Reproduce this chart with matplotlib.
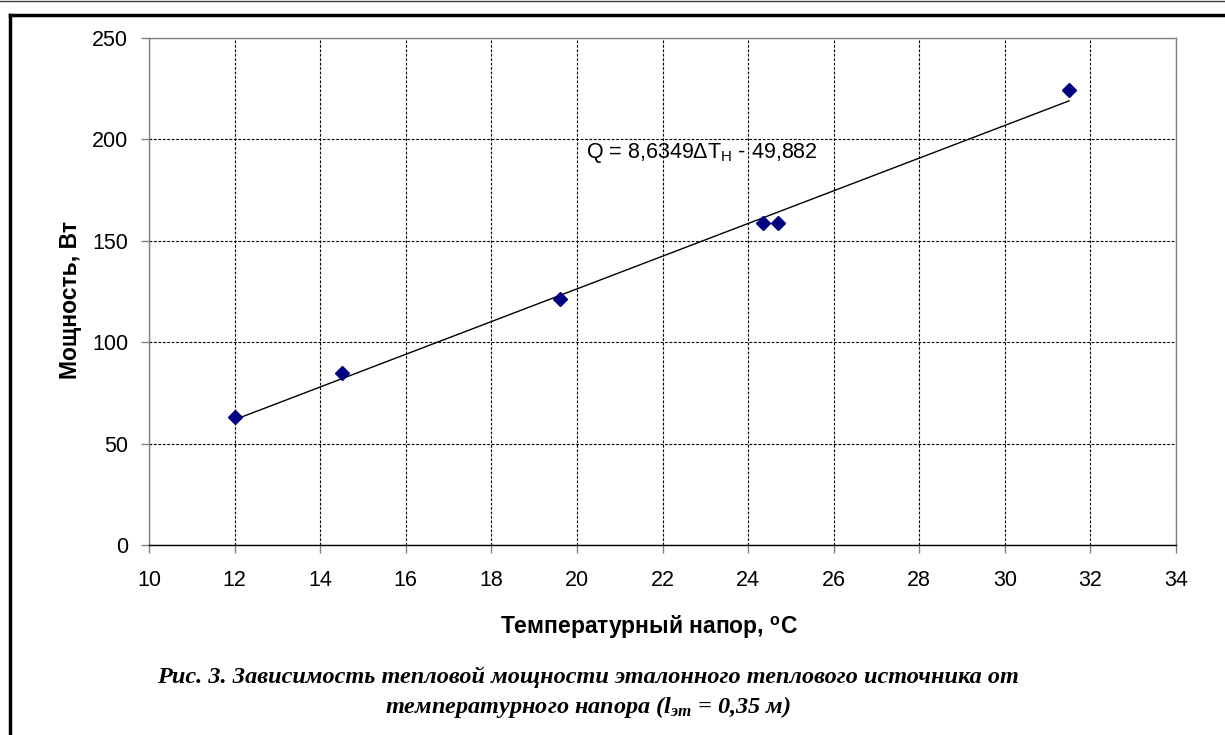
import numpy as np
import matplotlib
matplotlib.use("Agg")
import matplotlib.pyplot as plt
from matplotlib.lines import Line2D

plt.rcParams['font.family'] = ['Liberation Sans', 'DejaVu Sans']
plt.rcParams['mathtext.fontset'] = 'custom'
plt.rcParams['mathtext.rm'] = 'Liberation Serif:bold:italic'
plt.rcParams['mathtext.sf'] = 'Liberation Sans'
plt.rcParams['mathtext.it'] = 'Liberation Serif:bold:italic'
plt.rcParams['mathtext.bf'] = 'Liberation Sans:bold'

# Data
delta_t = [12.0, 14.5, 19.6, 24.35, 24.7, 31.5]
power = [63.0, 85.0, 121.3, 158.8, 158.8, 224.4]
x_ticks = [10, 12, 14, 16, 18, 20, 22, 24, 26, 28, 30, 32, 34]
y_ticks = [0, 50, 100, 150, 200, 250]
equation_label = "Q = 8,6349ΔT$_{\\mathsf{Н}}$ - 49,882"
x_label = "Температурный напор, $^{\\mathbf{o}}$C"
y_label = "Мощность, Вт"
caption = ("Рис. 3. Зависимость тепловой мощности эталонного теплового источника от\n"
           "температурного напора ($\\mathrm{l}_{\\mathrm{эт}}$ = 0,35 м)")

W, H = 1225, 735
fig = plt.figure(figsize=(W / 100, H / 100), dpi=100)
ax = fig.add_axes([149 / W, 1 - 545 / H, (1176 - 149) / W, (545 - 38) / H])

# Trendline from linear fit of data
coef = np.polyfit(delta_t, power, 1)
xs = np.array([min(delta_t), max(delta_t)])
ax.plot(xs, np.polyval(coef, xs), color='black', lw=1.0, zorder=3)

ax.plot(delta_t, power, linestyle='none', marker='D', markersize=7,
        color='#000080', zorder=4)

ax.set_xlim(10, 34)
ax.set_ylim(0, 250)
ax.set_xticks(x_ticks)
ax.set_yticks(y_ticks)
ax.tick_params(axis='both', labelsize=15.5, direction='out', length=6,
               width=1, color='#808080')
ax.tick_params(axis='y', pad=9)
ax.tick_params(axis='x', pad=12)

ax.grid(True, color='black', linestyle=(0, (2.5, 1.5)), linewidth=0.8)
ax.set_axisbelow(True)
for side in ['left', 'top', 'right']:
    ax.spines[side].set_color('#808080')
    ax.spines[side].set_linewidth(1.0)
ax.spines['bottom'].set_color('black')
ax.spines['bottom'].set_linewidth(1.0)

ax.text(20.21, 193.3, equation_label, fontsize=15.5, va='center', ha='left')

fig.text(649 / W, 1 - 627 / H, x_label, fontsize=16.5, fontweight='bold',
         ha='center', va='center')
fig.text(70 / W, 1 - 300 / H, y_label, fontsize=16.5, fontweight='bold',
         ha='center', va='center', rotation=90)

fig.text(588 / W, 1 - 693 / H, caption, fontsize=17.5, fontweight='bold',
         fontstyle='italic', family=['Liberation Serif'], ha='center',
         va='center', linespacing=1.3)

# Frame lines
fig.add_artist(Line2D([0, 1], [1 - 1 / H, 1 - 1 / H], transform=fig.transFigure,
                      color='#404040', lw=1.0))
fig.add_artist(Line2D([10 / W, 1], [1 - 15 / H, 1 - 15 / H], transform=fig.transFigure,
                      color='black', lw=2.5))
fig.add_artist(Line2D([10 / W, 10 / W], [0, 1 - 15 / H], transform=fig.transFigure,
                      color='black', lw=2.5))

fig.savefig("out.png", dpi=100)
